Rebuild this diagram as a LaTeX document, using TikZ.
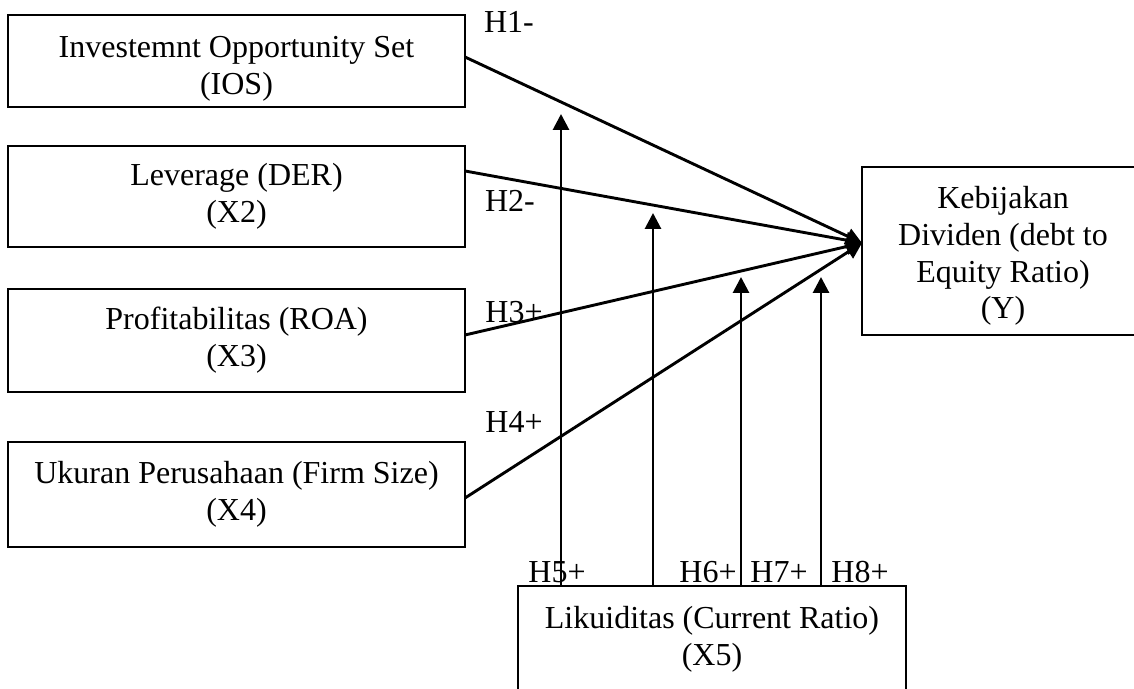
\documentclass[tikz,border=0pt]{standalone}
\usepackage{fontspec}
\setmainfont{Liberation Serif}
\usetikzlibrary{arrows.meta}
\begin{document}
\begin{tikzpicture}[x=0.5pt,y=-0.5pt,
  font=\fontsize{16pt}{18.4pt}\selectfont,
  varbox/.style={draw,line width=0.85pt,inner sep=0pt,outer sep=0pt,align=center},
  boxtext/.style={inner sep=0pt,align=center},
  link/.style={line width=1.45pt,-{Triangle[length=8pt,width=8pt]}},
  hyp/.style={inner sep=0pt}]
\clip (0,0) rectangle (1134,689);
\fill[white] (0,0) rectangle (1134,689);
% boxes
\node[varbox,minimum width=228.5pt,minimum height=46pt] (b1) at (236.5,61) {};
\node[boxtext] (b1t) at ([yshift=-4pt]b1.center) {Investemnt Opportunity Set\\(IOS)};
\node[varbox,minimum width=228.5pt,minimum height=50.5pt] (b2) at (236.5,196.5) {Leverage (DER)\\(X2)};
\node[varbox,minimum width=228.5pt,minimum height=51.5pt] (b3) at (236.5,340.5) {Profitabilitas (ROA)\\(X3)};
\node[varbox,minimum width=228.5pt,minimum height=52.5pt] (b4) at (236.5,494.5) {Ukuran Perusahaan (Firm Size)\\(X4)};
\node[varbox,minimum width=141pt,minimum height=84pt] (y) at (1003,251) {};
\node[boxtext] (yt) at ([yshift=-2.5pt]y.center) {Kebijakan\\Dividen (debt to\\Equity Ratio)\\(Y)};
\node[varbox,minimum width=194pt,minimum height=53pt] (x5) at (712,639) {Likuiditas (Current Ratio)\\(X5)};
% target and free ends
\coordinate (tip) at ([yshift=4pt]y.west);
\coordinate (e5) at (561,114);
\coordinate (e6) at (653,213);
\coordinate (e7) at (741,277);
\coordinate (e8) at (821,277);
% main paths
\draw[link] ([yshift=2pt]b1.east) -- (tip);
\draw[link] ([yshift=12.75pt]b2.east) -- (tip);
\draw[link] ([yshift=2.75pt]b3.east) -- (tip);
\draw[link] ([yshift=-1.75pt]b4.east) -- (tip);
% moderation paths
\draw[link] ([xshift=-75.5pt]x5.north) -- (e5);
\draw[link] ([xshift=-29.5pt]x5.north) -- (e6);
\draw[link] ([xshift=14.5pt]x5.north) -- (e7);
\draw[link] ([xshift=54.5pt]x5.north) -- (e8);
% labels
\node[hyp] (h1) at (509,22) {H1-};
\node[hyp] (h2) at (510,201) {H2-};
\node[hyp] (h3) at (514,312) {H3+};
\node[hyp] (h4) at (514,422) {H4+};
\node[hyp] (h5) at (557,572) {H5+};
\node[hyp] (h6) at (708,572) {H6+};
\node[hyp] (h7) at (779,572) {H7+};
\node[hyp] (h8) at (860,572) {H8+};
\end{tikzpicture}
\end{document}
